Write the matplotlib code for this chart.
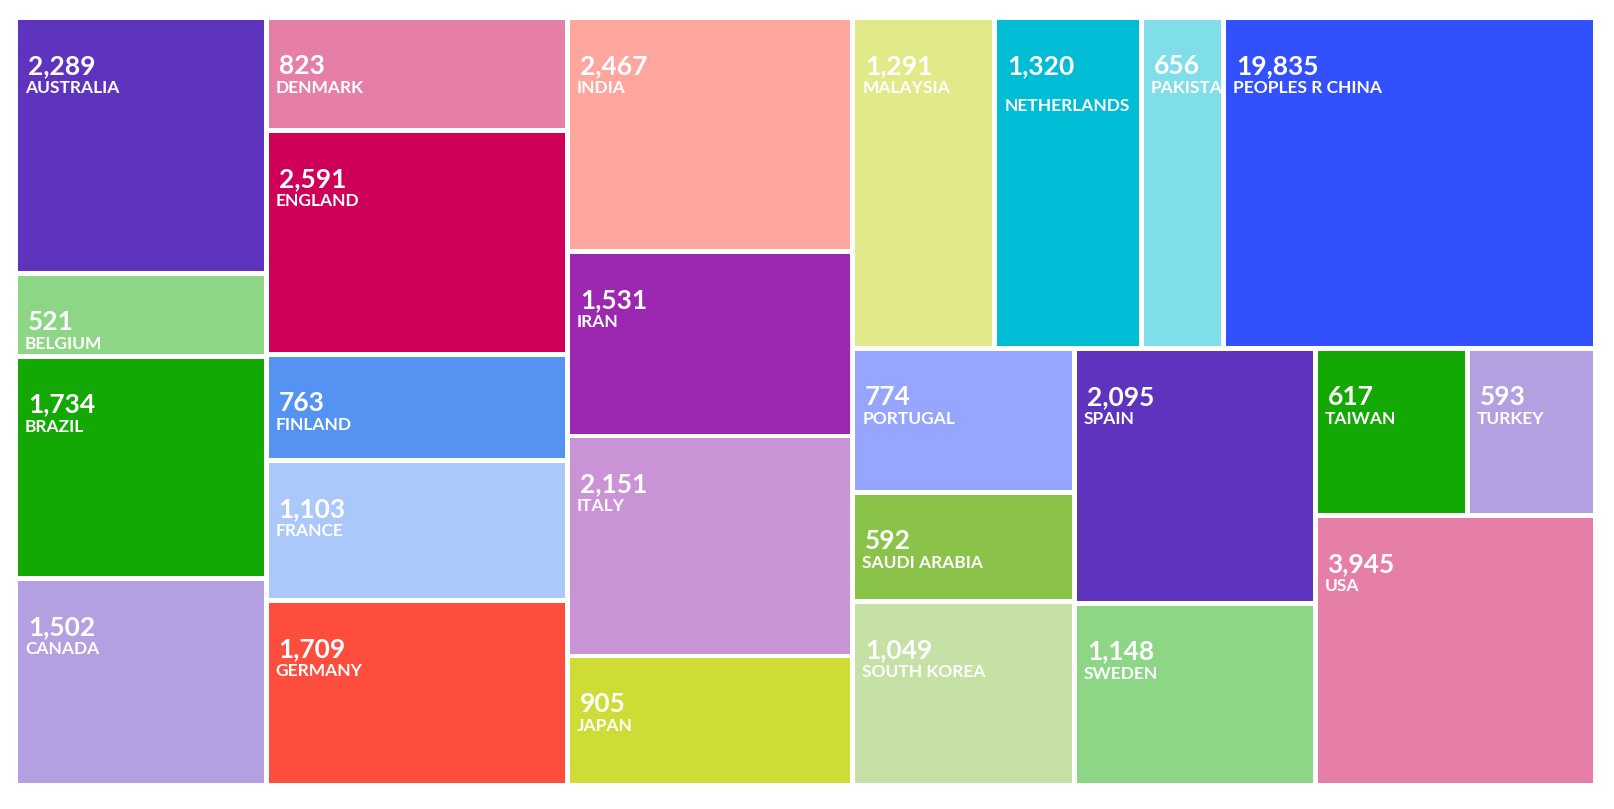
import matplotlib
matplotlib.use("Agg")
from matplotlib import pyplot as plt
from matplotlib.patches import Rectangle
from matplotlib.transforms import Bbox, TransformedBbox

# country names, shown counts, and tile sizes (tile sizes)
countries = ["AUSTRALIA", "BELGIUM", "BRAZIL", "CANADA",
             "DENMARK", "ENGLAND", "FINLAND", "FRANCE", "GERMANY",
             "INDIA", "IRAN", "ITALY", "JAPAN",
             "MALAYSIA", "NETHERLANDS", "PAKISTAN", "PEOPLES R CHINA",
             "PORTUGAL", "SAUDI ARABIA", "SOUTH KOREA",
             "SPAIN", "SWEDEN", "TAIWAN", "TURKEY", "USA"]
counts = [2289, 521, 1734, 1502,
          823, 2591, 763, 1103, 1709,
          2467, 1531, 2151, 905,
          1291, 1320, 656, 19835,
          774, 592, 1049,
          2095, 1148, 617, 593, 3945]
sizes = [60.5, 19.5, 52.5, 48.9,
         32.0, 63.6, 30.1, 39.8, 52.4,
         62.9, 49.6, 59.1, 34.8,
         44.3, 45.6, 25.7, 115.9,
         30.2, 22.8, 38.4,
         57.7, 41.3, 24.0, 20.1, 71.3]

palette = ["#5E33BE", "#8CD685", "#14A804", "#B4A0E0", "#E57FA8",
           "#CF0057", "#5593F3", "#AAC8FA", "#FF4D3D", "#FFA69E",
           "#9C27B0", "#CA93D6", "#CFDC36", "#E1E989", "#00BCD4",
           "#80DEEA", "#3350FF", "#96A6FF", "#8BC34A", "#C5E1A5"]

PHI = (1 + 5 ** 0.5) / 2


def squarify(values, x0, y0, x1, y1, ratio=PHI):
    """same row rule as d3.treemapSquarify, input order kept"""
    rects = []
    total = float(sum(values))
    i0 = 0
    n = len(values)
    while i0 < n:
        dx, dy = x1 - x0, y1 - y0
        s = values[i0]
        lo = hi = s
        alpha = max(dy / dx, dx / dy) / (total * ratio)
        beta = s * s * alpha
        best = max(hi / beta, beta / lo)
        i1 = i0 + 1
        while i1 < n:
            v = values[i1]
            s2 = s + v
            lo2, hi2 = min(lo, v), max(hi, v)
            beta = s2 * s2 * alpha
            r = max(hi2 / beta, beta / lo2)
            if r > best:
                break
            s, lo, hi, best = s2, lo2, hi2, r
            i1 += 1
        row = values[i0:i1]
        if dx < dy:
            yb = y0 + dy * s / total
            xx = x0
            for v in row:
                w = dx * v / s
                rects.append((xx, y0, w, yb - y0))
                xx += w
            y0 = yb
        else:
            xb = x0 + dx * s / total
            yy = y0
            for v in row:
                h = dy * v / s
                rects.append((x0, yy, xb - x0, h))
                yy += h
            x0 = xb
        total -= s
        i0 = i1
    return rects


W, H = 1615, 809
fig = plt.figure(figsize=(W / 100, H / 100), dpi=100)
ax = fig.add_axes([0, 0, 1, 1])
ax.set_xlim(0, W)
ax.set_ylim(H, 0)
ax.axis("off")

pad = 2.4
rects = squarify(sizes, 15.6, 17.6, 1595.4, 785.4)
wrapped = {"NETHERLANDS"}

for i, (x, y, w, h) in enumerate(rects):
    x, y, w, h = x + pad, y + pad, w - 2 * pad, h - 2 * pad
    ax.add_patch(Rectangle((x, y), w, h, facecolor=palette[i % len(palette)],
                           edgecolor="none"))
    # agg ignores clip paths on text, a clip box works
    box = TransformedBbox(Bbox([[x, y], [x + w, y + h]]), ax.transData)
    t1 = ax.text(x + 10, y + 46, f"{counts[i]:,}", fontsize=19,
                 fontfamily="Lato", fontweight="bold", color="white",
                 ha="left", va="center", clip_on=True)
    t1.set_clip_box(box)
    dy = 86 if countries[i] in wrapped else 68
    t2 = ax.text(x + 7, y + dy, countries[i], fontsize=12.5,
                 fontfamily="Lato", fontweight="bold", color="white",
                 ha="left", va="center", clip_on=True)
    t2.set_clip_box(box)

fig.savefig("out.png", dpi=100, facecolor="white")
